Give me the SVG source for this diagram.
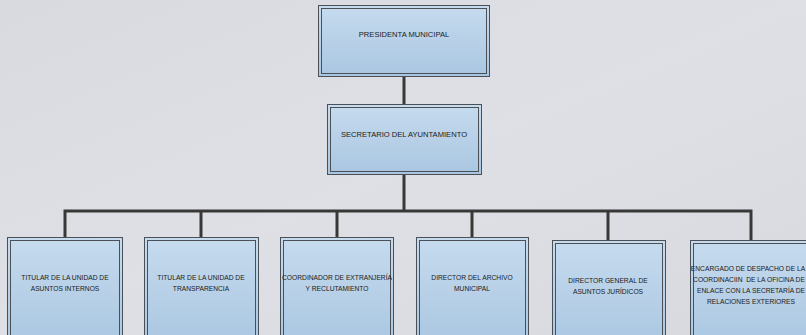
<svg xmlns="http://www.w3.org/2000/svg" width="806" height="335" viewBox="0 0 806 335">
  <defs>
    <linearGradient id="bg" x1="0" y1="0" x2="1" y2="1">
      <stop offset="0" stop-color="#d9dadf"/>
      <stop offset="0.5" stop-color="#dfe0e5"/>
      <stop offset="1" stop-color="#d8d9de"/>
    </linearGradient>
    <linearGradient id="boxFill" x1="0" y1="0" x2="0" y2="1">
      <stop offset="0" stop-color="#c6dbee"/>
      <stop offset="1" stop-color="#a9c6e1"/>
    </linearGradient>
    <style>
      .outer { fill: url(#boxFill); stroke: #4b5056; stroke-width: 1; }
      .inner { fill: none; stroke: #4b5056; stroke-width: 1; }
      .lbl { font-family: "Liberation Sans", Arial, sans-serif; fill: #1a1a1a; text-anchor: middle; }
      .top { font-size: 7.6px; }
      .sub { font-size: 6.7px; }
      .wire { fill: none; stroke: #383838; stroke-width: 3; }
    </style>
  </defs>

  <!-- backdrop -->
  <rect x="0" y="0" width="806" height="335" fill="url(#bg)"/>

  <!-- connectors -->
  <g id="connectors">
    <path class="wire" d="M404 76 V104"/>
    <path class="wire" d="M404 175 V211"/>
    <path class="wire" d="M65 237 V211 H751 V240"/>
    <path class="wire" d="M201 211 V237"/>
    <path class="wire" d="M337 211 V237"/>
    <path class="wire" d="M472 211 V237"/>
    <path class="wire" d="M608 211 V240"/>
  </g>

  <g id="presidenta">
    <rect class="outer" x="318.5" y="5.5" width="171" height="71"/>
    <rect class="inner" x="321.5" y="8.5" width="165" height="65"/>
    <text class="lbl top" x="404" y="37">PRESIDENTA MUNICIPAL</text>
  </g>

  <g id="secretario">
    <rect class="outer" x="327.5" y="104.5" width="154" height="70"/>
    <rect class="inner" x="330.5" y="107.5" width="148" height="64"/>
    <text class="lbl top" x="404" y="137">SECRETARIO DEL AYUNTAMIENTO</text>
  </g>

  <g id="asuntos-internos">
    <rect class="outer" x="7.5" y="237.5" width="115" height="110"/>
    <rect class="inner" x="10.5" y="240.5" width="109" height="104"/>
    <text class="lbl sub" x="65" y="280">TITULAR DE LA UNIDAD DE</text>
    <text class="lbl sub" x="65" y="291">ASUNTOS INTERNOS</text>
  </g>

  <g id="transparencia">
    <rect class="outer" x="144.5" y="237.5" width="114" height="110"/>
    <rect class="inner" x="147.5" y="240.5" width="108" height="104"/>
    <text class="lbl sub" x="201" y="280">TITULAR DE LA UNIDAD DE</text>
    <text class="lbl sub" x="201" y="291">TRANSPARENCIA</text>
  </g>

  <g id="extranjeria">
    <rect class="outer" x="280.5" y="237.5" width="113" height="110"/>
    <rect class="inner" x="283.5" y="240.5" width="107" height="104"/>
    <text class="lbl sub" x="337" y="280">COORDINADOR DE EXTRANJERÍA</text>
    <text class="lbl sub" x="337" y="291">Y RECLUTAMIENTO</text>
  </g>

  <g id="archivo">
    <rect class="outer" x="416.5" y="237.5" width="112" height="110"/>
    <rect class="inner" x="419.5" y="240.5" width="106" height="104"/>
    <text class="lbl sub" x="472" y="280">DIRECTOR DEL ARCHIVO</text>
    <text class="lbl sub" x="472" y="291">MUNICIPAL</text>
  </g>

  <g id="juridicos">
    <rect class="outer" x="552.5" y="240.5" width="113" height="110"/>
    <rect class="inner" x="555.5" y="243.5" width="107" height="104"/>
    <text class="lbl sub" x="608" y="283">DIRECTOR GENERAL DE</text>
    <text class="lbl sub" x="608" y="294">ASUNTOS JURÍDICOS</text>
  </g>

  <g id="relaciones-exteriores">
    <rect class="outer" x="690.5" y="240.5" width="124" height="110"/>
    <rect class="inner" x="693.5" y="243.5" width="118" height="104"/>
    <text class="lbl sub" x="748" y="271">ENCARGADO DE DESPACHO DE LA</text>
    <text class="lbl sub" x="749" y="282" xml:space="preserve">COORDINACIIN  DE LA OFICINA DE</text>
    <text class="lbl sub" x="751" y="293">ENLACE CON LA SECRETARÍA DE</text>
    <text class="lbl sub" x="751" y="304">RELACIONES EXTERIORES</text>
  </g>
</svg>
